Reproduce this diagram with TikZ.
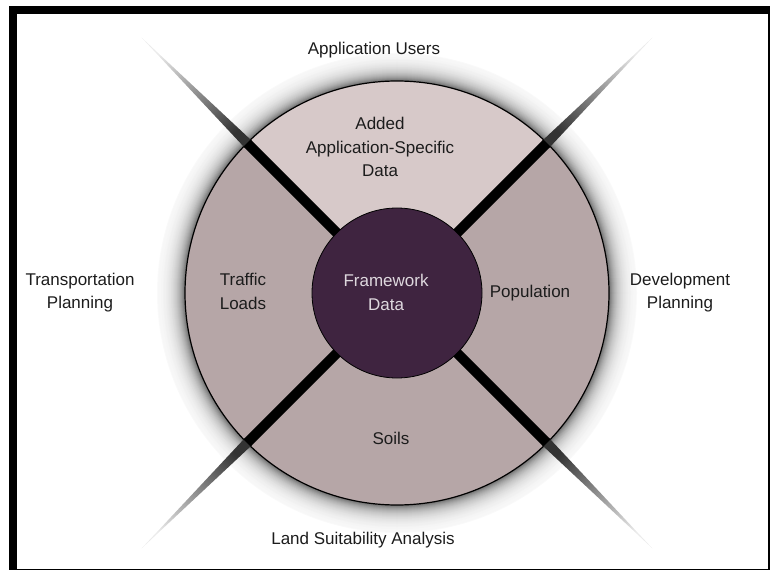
\documentclass[tikz,border=0pt]{standalone}
\usepackage{fontspec}
\setmainfont{Liberation Sans}
\usepackage{tikz}
\definecolor{ringlight}{RGB}{215,201,201}
\definecolor{ringdark}{RGB}{182,166,167}
\definecolor{coreclr}{RGB}{63,36,64}
\definecolor{coretext}{RGB}{222,216,222}
\definecolor{lbltext}{RGB}{28,28,28}
\tikzstyle{lbl} = [text=lbltext, align=center, inner sep=0pt,
    font=\fontsize{17}{23.5}\selectfont]
\tikzstyle{corelbl} = [lbl, text=coretext]
\tikzstyle{spoke} = [draw, black, line width=10pt]

\begin{document}
\begin{tikzpicture}[x=1pt, y=1pt]
  \useasboundingbox (0,0) rectangle (770,571);
  % frame
  \fill (9,1) rectangle (17,565);
  \fill (9,557) rectangle (770,565);
  \fill (767.5,1) rectangle (770,565);
  \fill (9,1) rectangle (770,2.5);

  \begin{scope}[shift={(397,278)}]
    % glow round the ring
    \foreach \i [evaluate=\i as \d using int(62*exp(-(28-\i)/9))] in {0,...,28}
      \fill[black!\d] (0,0) circle (240-\i);
    \fill[ringdark] (0,0) circle (212);
    \fill[ringlight] (0,0) -- (45:212) arc (45:135:212) -- cycle;
    \draw[line width=1.2pt] (0,0) circle (212);

    \foreach \a/\s in {45/135, 135/225, 225/315, 315/45} {
      \shade[top color=black!80, bottom color=black!8, shading angle=\s]
        (\a+1.36:210) -- (\a:361) -- (\a-1.36:210) -- cycle;
      \path[spoke] (\a:84) -- (\a:212);
    }
    \fill[coreclr] (0,0) circle (85);
    \draw[line width=0.8pt] (0,0) circle (85);
  \end{scope}

  \node[lbl] (users) at (374,521) {Application Users};
  \node[lbl] (added) at (380,424) {Added\\Application-Specific\\Data};
  \node[corelbl] (framework) at (386,278.5) {Framework\\Data};
  \node[lbl] (traffic) at (243,279.5) {Traffic\\Loads};
  \node[lbl] (population) at (530,278) {Population};
  \node[lbl] (soils) at (391,133) {Soils};
  \node[lbl] (transport) at (80,278.5) {Transportation\\Planning};
  \node[lbl] (develop) at (680,278.5) {Development\\Planning};
  \node[lbl] (landuse) at (363,31) {Land Suitability Analysis};
\end{tikzpicture}
\end{document}
